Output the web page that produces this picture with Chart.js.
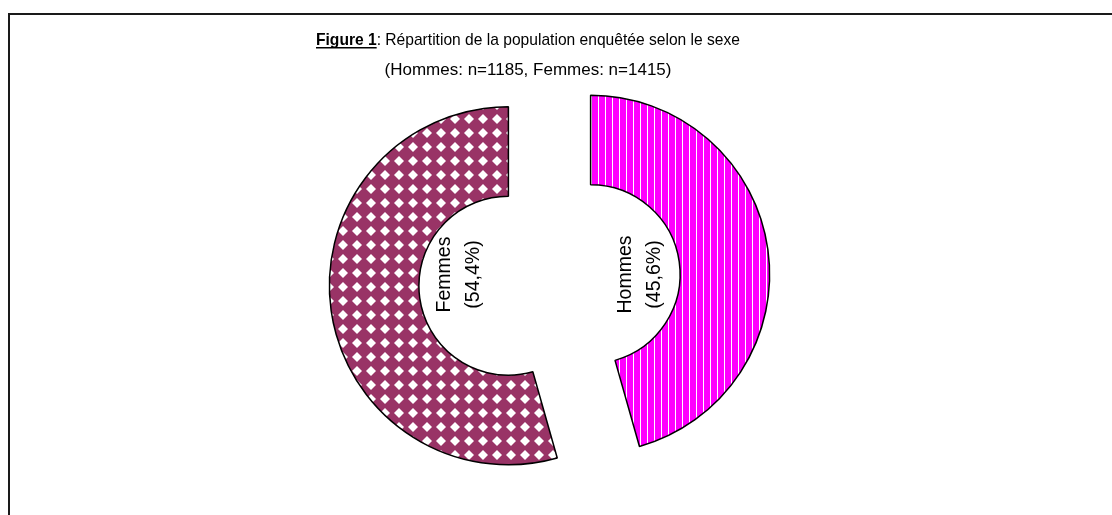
<!DOCTYPE html>
<html><head><meta charset="utf-8">
<script src="https://cdn.jsdelivr.net/npm/chart.js@4.4.0/dist/chart.umd.min.js"></script>
<style>html,body{margin:0;padding:0;background:#fff;overflow:hidden}#wrap{position:absolute;left:0;top:0;width:1112px;height:515px}</style>
</head><body><div id="wrap"><canvas id="c" width="1112" height="515"></canvas></div>
<script>
// ---- data ----
const categories = ['Hommes', 'Femmes'];
const percentages = [45.6, 54.4];
const percentLabels = ['(45,6%)', '(54,4%)'];
const counts = [1185, 1415];
const titleBold = 'Figure 1';
const titleRest = ': Répartition de la population enquêtée selon le sexe';
const subtitleText = '(Hommes: n=' + counts[0] + ', Femmes: n=' + counts[1] + ')';

const FONT = '"Liberation Sans", Arial, sans-serif';

function stripePattern() {
  const c = document.createElement('canvas');
  c.width = 7; c.height = 7;
  const g = c.getContext('2d');
  g.fillStyle = '#ff00ff'; g.fillRect(0, 0, 7, 7);
  g.fillStyle = '#ffffff'; g.fillRect(3, 0, 1, 7);
  return g.createPattern(c, 'repeat');
}
function diamondPattern() {
  const s = 14;
  const c = document.createElement('canvas');
  c.width = s; c.height = s;
  const g = c.getContext('2d');
  g.fillStyle = '#993366'; g.fillRect(0, 0, s, s);
  g.fillStyle = '#ffffff';
  const h = 5;
  g.beginPath();
  g.moveTo(s/2, s/2 - h); g.lineTo(s/2 + h, s/2); g.lineTo(s/2, s/2 + h); g.lineTo(s/2 - h, s/2); g.closePath();
  g.fill();
  return g.createPattern(c, 'repeat');
}

const explodePlugin = {
  id: 'explode',
  afterDatasetUpdate(chart, args, opts) {
    const d = opts.distance || 0;
    args.meta.data.forEach(arc => {
      const mid = (arc.startAngle + arc.endAngle) / 2;
      arc.x += Math.cos(mid) * d;
      arc.y += Math.sin(mid) * d;
    });
  }
};

const framePlugin = {
  id: 'frame',
  beforeDraw(chart) {
    const ctx = chart.ctx;
    ctx.save();
    ctx.strokeStyle = '#1a1a1a';
    ctx.lineWidth = 2;
    ctx.beginPath();
    ctx.moveTo(9, 516); ctx.lineTo(9, 14); ctx.lineTo(1113, 14);
    ctx.stroke();
    ctx.restore();
  }
};

const titlePlugin = {
  id: 'figTitle',
  afterDraw(chart) {
    const ctx = chart.ctx;
    const cx = 528, size = 17, targetW = 424;
    ctx.save();
    ctx.fillStyle = '#000';
    ctx.textBaseline = 'alphabetic';
    ctx.font = 'bold ' + size + 'px ' + FONT;
    const wb = ctx.measureText(titleBold).width;
    ctx.font = size + 'px ' + FONT;
    const wr = ctx.measureText(titleRest).width;
    const k = targetW / (wb + wr);
    const y1 = 45;
    ctx.save();
    ctx.translate(cx - targetW / 2, 0);
    ctx.scale(k, 1);
    ctx.textAlign = 'left';
    ctx.font = 'bold ' + size + 'px ' + FONT;
    ctx.fillText(titleBold, 0, y1);
    ctx.fillRect(0, y1 + 2, wb, 1.5);
    ctx.font = size + 'px ' + FONT;
    ctx.fillText(titleRest, wb, y1);
    ctx.restore();
    ctx.textAlign = 'center';
    ctx.font = size + 'px ' + FONT;
    ctx.fillText(subtitleText, cx, 75);
    ctx.restore();
  }
};

const sliceLabelPlugin = {
  id: 'sliceLabels',
  afterDatasetsDraw(chart) {
    const ctx = chart.ctx;
    const meta = chart.getDatasetMeta(0);
    const cy = (chart.chartArea.top + chart.chartArea.bottom) / 2 - 5.5;
    ctx.save();
    ctx.fillStyle = '#000';
    ctx.font = '19.5px ' + FONT;
    ctx.textAlign = 'center';
    ctx.textBaseline = 'middle';
    meta.data.forEach((arc, i) => {
      const mid = (arc.startAngle + arc.endAngle) / 2;
      const side = Math.cos(mid) >= 0 ? 1 : -1;
      const lx = arc.x + side * arc.innerRadius * 0.55;
      ctx.save();
      ctx.translate(lx, cy);
      ctx.rotate(-Math.PI / 2);
      ctx.fillText(categories[i], 0, -14.5);
      ctx.fillText(percentLabels[i], 0, 14.5);
      ctx.restore();
    });
    ctx.restore();
  }
};

new Chart(document.getElementById('c'), {
  type: 'doughnut',
  data: {
    labels: categories,
    datasets: [{
      data: percentages,
      backgroundColor: [stripePattern(), diamondPattern()],
      borderColor: '#000',
      borderWidth: 1.5,
      borderAlign: 'center'
    }]
  },
  options: {
    responsive: false,
    animation: false,
    events: [],
    radius: 179,
    cutout: '50%',
    rotation: 0,
    layout: { padding: { left: 0, right: 13, top: 45, bottom: 0 } },
    plugins: {
      legend: { display: false },
      title: { display: false },
      tooltip: { enabled: false },
      explode: { distance: 41.5 }
    }
  },
  plugins: [framePlugin, explodePlugin, sliceLabelPlugin, titlePlugin]
});
</script>
</body></html>
